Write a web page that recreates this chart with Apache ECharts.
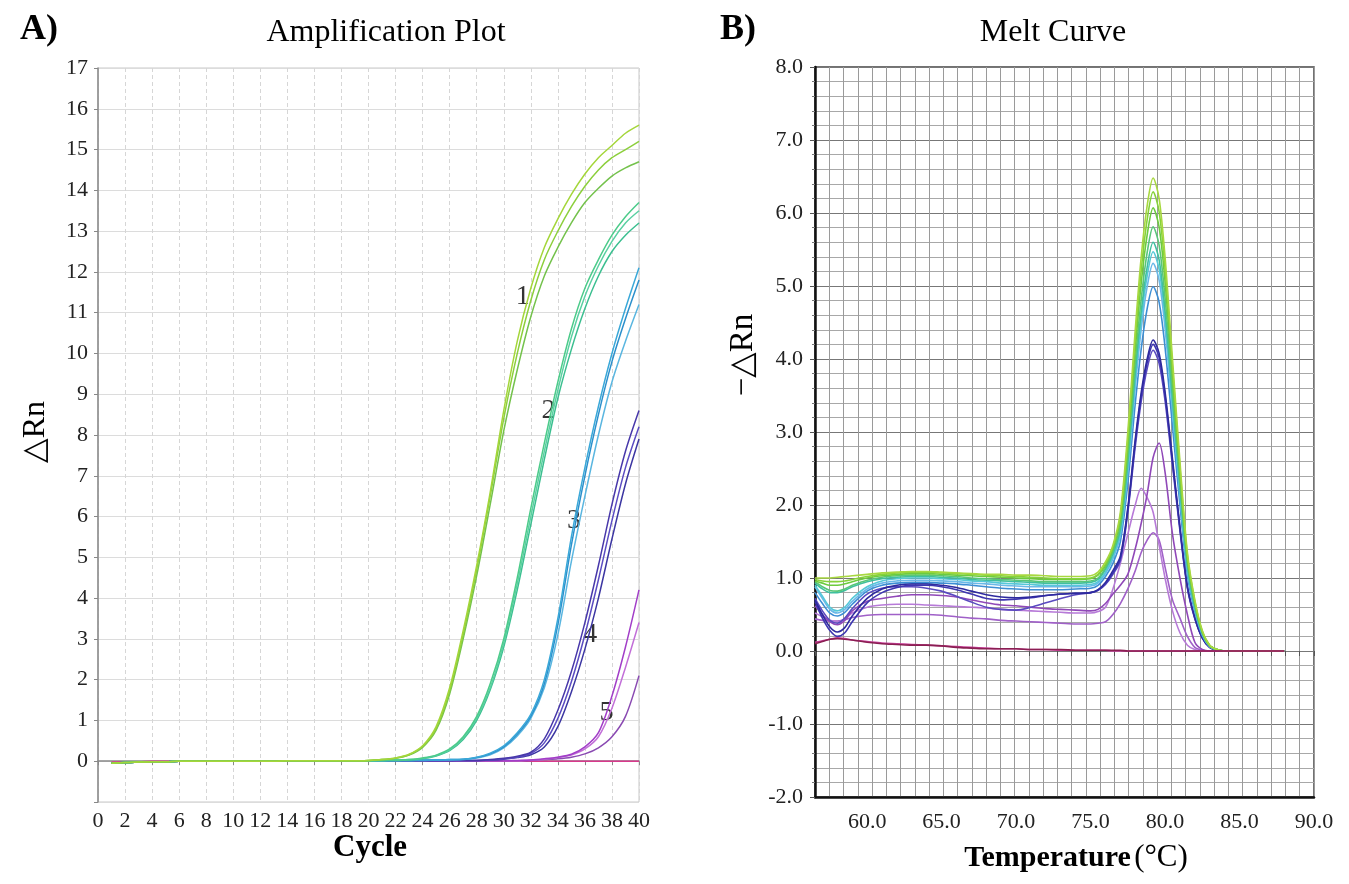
<!DOCTYPE html>
<html><head><meta charset="utf-8">
<script src="https://cdn.jsdelivr.net/npm/echarts@6/dist/echarts.min.js"></script>
<style>html,body{margin:0;padding:0;background:#fff}#c{width:1349px;height:884px}</style>
</head><body><div id="c"></div>
<script>
// ---------- Panel A: amplification plot ----------
const cycles = [1,2,3,4,5,6,7,8,9,10,11,12,13,14,15,16,17,18,19,20,21,22,23,24,25,26,27,28,29,30,31,32,33,34,35,36,37,38,39,40];
const amp1a = [-0.05,-0.03,-0.02,-0.01,-0.01,0,0,0,0,0,0,0,0,0.01,0.01,0.01,0.01,0.01,0.01,0.02,0.04,0.08,0.17,0.38,0.85,1.8,3.2,4.8,6.6,8.6,10.3,11.6,12.6,13.3,13.9,14.4,14.8,15.1,15.4,15.6];
const amp1b = [-0.05,-0.03,-0.02,-0.01,-0.01,0,0,0,0,0,0,0,0,0.01,0.01,0.01,0.01,0.01,0.01,0.02,0.04,0.08,0.16,0.36,0.8,1.72,3.1,4.7,6.5,8.4,10.0,11.3,12.3,13.0,13.6,14.1,14.5,14.8,15.0,15.2];
const amp1c = [-0.05,-0.03,-0.02,-0.01,-0.01,0,0,0,0,0,0,0,0,0.01,0.01,0.01,0.01,0.01,0.01,0.02,0.04,0.07,0.15,0.34,0.76,1.65,3.0,4.55,6.3,8.1,9.6,10.9,11.9,12.6,13.2,13.7,14.05,14.35,14.55,14.7];
const amp2a = [-0.05,-0.03,-0.02,-0.01,-0.01,0,0,0,0,0,0,0,0,0.01,0.01,0.01,0.01,0.01,0.01,0.01,0.02,0.03,0.04,0.08,0.15,0.3,0.6,1.1,1.9,3.0,4.5,6.2,7.8,9.3,10.6,11.6,12.3,12.9,13.35,13.7];
const amp2b = [-0.05,-0.03,-0.02,-0.01,-0.01,0,0,0,0,0,0,0,0,0.01,0.01,0.01,0.01,0.01,0.01,0.01,0.02,0.03,0.04,0.07,0.14,0.28,0.57,1.05,1.8,2.9,4.35,6.0,7.6,9.1,10.4,11.4,12.15,12.75,13.2,13.5];
const amp2c = [-0.05,-0.03,-0.02,-0.01,-0.01,0,0,0,0,0,0,0,0,0.01,0.01,0.01,0.01,0.01,0.01,0.01,0.02,0.02,0.03,0.06,0.13,0.26,0.53,1.0,1.75,2.8,4.2,5.8,7.4,8.9,10.1,11.1,11.9,12.5,12.9,13.2];
const amp3a = [-0.05,-0.03,-0.02,-0.01,-0.01,0,0,0,0,0,0,0,0,0.01,0.01,0.01,0.01,0.01,0.01,0.01,0.01,0.02,0.02,0.03,0.03,0.04,0.05,0.1,0.2,0.38,0.7,1.15,2.0,3.5,5.5,7.2,8.7,10.0,11.1,12.1];
const amp3b = [-0.05,-0.03,-0.02,-0.01,-0.01,0,0,0,0,0,0,0,0,0.01,0.01,0.01,0.01,0.01,0.01,0.01,0.01,0.02,0.02,0.03,0.03,0.04,0.05,0.09,0.18,0.35,0.66,1.1,1.9,3.35,5.3,7.0,8.5,9.8,10.85,11.8];
const amp3c = [-0.05,-0.03,-0.02,-0.01,-0.01,0,0,0,0,0,0,0,0,0.01,0.01,0.01,0.01,0.01,0.01,0.01,0.01,0.01,0.02,0.02,0.03,0.03,0.04,0.08,0.16,0.33,0.62,1.05,1.8,3.1,4.9,6.5,8.0,9.3,10.3,11.2];
const amp4a = [-0.05,-0.03,-0.02,-0.01,-0.01,0,0,0,0,0,0,0,0,0.01,0.01,0.01,0.01,0.01,0.01,0.01,0.01,0.01,0.01,0.01,0.02,0.02,0.02,0.02,0.04,0.07,0.12,0.22,0.55,1.25,2.2,3.4,4.8,6.3,7.6,8.6];
const amp4b = [-0.05,-0.03,-0.02,-0.01,-0.01,0,0,0,0,0,0,0,0,0.01,0.01,0.01,0.01,0.01,0.01,0.01,0.01,0.01,0.01,0.01,0.01,0.02,0.02,0.02,0.03,0.06,0.1,0.19,0.45,1.05,1.95,3.1,4.45,5.9,7.2,8.2];
const amp4c = [-0.05,-0.03,-0.02,-0.01,-0.01,0,0,0,0,0,0,0,0,0.01,0.01,0.01,0.01,0.01,0.01,0.01,0.01,0.01,0.01,0.01,0.01,0.01,0.02,0.02,0.03,0.05,0.09,0.16,0.35,0.85,1.7,2.75,4.0,5.45,6.8,7.9];
const amp5a = [-0.05,-0.03,-0.02,-0.01,-0.01,0,0,0,0,0,0,0,0,0.01,0.01,0.01,0.01,0.01,0.01,0.01,0.01,0.01,0.01,0.01,0.01,0.01,0.01,0.01,0.01,0.01,0.02,0.03,0.06,0.1,0.17,0.35,0.7,1.6,2.8,4.2];
const amp5b = [-0.05,-0.03,-0.02,-0.01,-0.01,0,0,0,0,0,0,0,0,0.01,0.01,0.01,0.01,0.01,0.01,0.01,0.01,0.01,0.01,0.01,0.01,0.01,0.01,0.01,0.01,0.01,0.01,0.03,0.05,0.09,0.15,0.3,0.6,1.3,2.3,3.4];
const amp5c = [-0.05,-0.03,-0.02,-0.01,-0.01,0,0,0,0,0,0,0,0,0.01,0.01,0.01,0.01,0.01,0.01,0.01,0.01,0.01,0.01,0.01,0.01,0.01,0.01,0.01,0.01,0.01,0.01,0.02,0.04,0.06,0.1,0.18,0.33,0.6,1.1,2.1];
const ampNtc = [-0.02,-0.01,-0.01,0,0,0,0,0,0,0,0,0,0,0,0,0,0,0,0,0,0,0,0,0,0,0,0,0,0,0,0,0,0,0,0,0,0,0,0,0];
// group labels 1..5 placed on the curves
const groupLabelText = ['1','2','3','4','5'];
const groupLabelCycle = [31.4,33.3,35.2,36.4,37.6];
const groupLabelValue = [11.4,8.6,5.9,3.1,1.2];

// ---------- Panel B: melt curve ----------
const meltTemps = [56.5,57,57.5,58,58.5,59,60,61,62,63,64,65,66,67,68,69,70,71,72,73,74,75,75.5,76,76.5,77,77.5,78,78.4,78.8,79.2,79.6,80,80.5,81,81.5,82,82.5,83,83.5,84,86,88];
const melt1 = [1.0,1.0,1.0,1.01,1.02,1.03,1.05,1.07,1.08,1.09,1.09,1.08,1.07,1.06,1.05,1.05,1.04,1.04,1.03,1.02,1.02,1.03,1.08,1.22,1.45,1.9,3.0,4.4,5.4,6.1,6.48,6.2,5.4,4.0,2.6,1.35,0.7,0.28,0.08,0.02,0,0,0];
const melt2 = [0.98,0.96,0.95,0.95,0.96,0.98,1.02,1.05,1.07,1.08,1.08,1.07,1.06,1.05,1.04,1.03,1.02,1.01,1.0,0.99,0.99,1.0,1.05,1.19,1.42,1.85,2.9,4.28,5.22,5.91,6.29,6.02,5.24,3.88,2.52,1.31,0.68,0.27,0.08,0.02,0,0,0];
const melt3 = [0.96,0.93,0.9,0.9,0.92,0.95,1.0,1.03,1.05,1.06,1.06,1.05,1.04,1.03,1.02,1.01,1.0,0.99,0.98,0.98,0.98,0.99,1.04,1.17,1.4,1.8,2.8,4.13,5.04,5.7,6.07,5.81,5.06,3.75,2.43,1.26,0.66,0.26,0.07,0.02,0,0,0];
const melt4 = [0.95,0.88,0.83,0.82,0.85,0.9,0.97,1.01,1.03,1.04,1.04,1.03,1.02,1.0,0.99,0.98,0.97,0.96,0.95,0.95,0.95,0.96,1.0,1.14,1.36,1.72,2.68,3.95,4.82,5.46,5.81,5.56,4.84,3.58,2.32,1.21,0.63,0.25,0.07,0.02,0,0,0];
const melt5 = [0.93,0.85,0.8,0.8,0.83,0.88,0.95,0.99,1.01,1.02,1.02,1.01,1.0,0.98,0.97,0.96,0.95,0.94,0.93,0.93,0.93,0.94,0.98,1.12,1.33,1.67,2.58,3.81,4.65,5.26,5.6,5.36,4.66,3.46,2.24,1.17,0.6,0.24,0.07,0.02,0,0,0];
const melt6 = [0.9,0.75,0.6,0.55,0.6,0.72,0.88,0.96,0.99,1.0,1.0,0.99,0.98,0.96,0.95,0.93,0.92,0.91,0.9,0.9,0.9,0.91,0.95,1.08,1.29,1.62,2.52,3.72,4.54,5.14,5.47,5.23,4.56,3.37,2.19,1.14,0.59,0.24,0.07,0.02,0,0,0];
const melt7 = [0.88,0.72,0.57,0.52,0.57,0.68,0.85,0.93,0.96,0.97,0.97,0.96,0.95,0.93,0.92,0.9,0.89,0.88,0.88,0.88,0.88,0.89,0.93,1.06,1.26,1.58,2.44,3.61,4.41,4.99,5.31,5.08,4.42,3.28,2.12,1.1,0.57,0.23,0.06,0.02,0,0,0];
const melt8 = [0.8,0.65,0.52,0.48,0.53,0.64,0.82,0.9,0.93,0.94,0.94,0.93,0.92,0.9,0.88,0.86,0.85,0.84,0.84,0.84,0.85,0.86,0.9,1.02,1.2,1.5,2.3,3.39,4.14,4.69,4.99,4.78,4.16,3.08,2.0,1.04,0.54,0.21,0.06,0.01,0,0,0];
const melt9 = [0.7,0.5,0.33,0.26,0.32,0.48,0.72,0.85,0.9,0.92,0.92,0.9,0.87,0.82,0.77,0.74,0.73,0.74,0.76,0.78,0.79,0.8,0.84,0.94,1.1,1.3,1.96,2.9,3.54,4.0,4.26,4.08,3.55,2.63,1.7,0.89,0.46,0.18,0.05,0.01,0,0,0];
const melt10 = [0.68,0.45,0.28,0.2,0.25,0.4,0.66,0.8,0.87,0.9,0.9,0.88,0.84,0.78,0.72,0.7,0.71,0.73,0.76,0.78,0.79,0.8,0.83,0.92,1.07,1.27,1.93,2.86,3.49,3.95,4.2,4.02,3.5,2.59,1.68,0.87,0.45,0.18,0.05,0.01,0,0,0];
const melt11 = [0.72,0.55,0.42,0.38,0.45,0.58,0.78,0.86,0.88,0.88,0.86,0.82,0.75,0.67,0.6,0.57,0.56,0.6,0.66,0.72,0.77,0.8,0.83,0.91,1.05,1.24,1.9,2.8,3.42,3.87,4.12,3.94,3.43,2.54,1.65,0.86,0.44,0.18,0.05,0.01,0,0,0];
const melt12 = [0.62,0.5,0.4,0.36,0.42,0.55,0.68,0.72,0.75,0.77,0.77,0.76,0.74,0.7,0.66,0.63,0.62,0.6,0.58,0.57,0.56,0.55,0.57,0.65,0.78,0.9,1.05,1.4,1.75,2.15,2.65,2.85,2.45,1.6,1.0,0.5,0.12,0.02,0,0,0,0,0];
const melt13 = [0.52,0.47,0.42,0.4,0.44,0.52,0.6,0.63,0.64,0.64,0.63,0.62,0.61,0.6,0.59,0.57,0.56,0.55,0.54,0.53,0.52,0.52,0.54,0.6,0.85,1.2,1.6,2.0,2.23,2.1,1.9,1.45,1.0,0.55,0.25,0.08,0.02,0,0,0,0,0,0];
const melt14 = [0.44,0.42,0.41,0.41,0.43,0.46,0.49,0.5,0.5,0.5,0.5,0.49,0.47,0.45,0.44,0.42,0.41,0.4,0.39,0.38,0.37,0.37,0.38,0.4,0.5,0.65,0.85,1.1,1.35,1.52,1.62,1.52,1.15,0.7,0.45,0.2,0.05,0.01,0,0,0,0,0];
const meltNtc1 = [0.1,0.13,0.16,0.17,0.16,0.15,0.12,0.1,0.09,0.08,0.08,0.07,0.05,0.04,0.03,0.03,0.03,0.02,0.02,0.02,0.01,0.01,0.01,0.01,0.01,0.01,0,0,0,0,0,0,0,0,0,0,0,0,0,0,0,0,0];
const meltNtc2 = [0.12,0.14,0.16,0.18,0.17,0.15,0.13,0.11,0.1,0.09,0.08,0.07,0.06,0.05,0.04,0.03,0.03,0.02,0.02,0.01,0.01,0.01,0.01,0.01,0,0,0,0,0,0,0,0,0,0,0,0,0,0,0,0,0,0,0];
const tempLabels = [60,65,70,75,80,85,90];

// ---------- build ----------
const serif = '"Liberation Serif","DejaVu Serif","Noto Sans CJK SC",serif';
const zip = (xs, ys) => xs.map((x, i) => [x, ys[i]]);

const ampSeries = [
  [ampNtc, '#d8398c'],
  [amp5c, '#8a4ab2'], [amp5b, '#c26fd8'], [amp5a, '#a23ec8'],
  [amp4c, '#3c36a2'], [amp4b, '#5b4cc2'], [amp4a, '#4838aa'],
  [amp3c, '#5ab6e0'], [amp3b, '#2c90cc'], [amp3a, '#3aa8d8'],
  [amp2c, '#3cbf90'], [amp2b, '#5ad0a2'], [amp2a, '#4ccb8a'],
  [amp1c, '#74c24c'], [amp1b, '#8ccf3c'], [amp1a, '#a4d63a']
].map(([d, c]) => ({
  type: 'line', xAxisIndex: 0, yAxisIndex: 0, data: zip(cycles, d),
  smooth: 0.3, showSymbol: false, symbol: 'none',
  lineStyle: { color: c, width: 1.5 }, silent: true
}));

const meltSeries = [
  [melt14, '#a060c8'], [melt13, '#b77ad8'], [melt12, '#9048b8'],
  [melt11, '#5a4ac0'], [melt10, '#3e36b0'], [melt9, '#2e2a9e'],
  [melt8, '#3c8ed4'], [melt7, '#6ab8e8'], [melt6, '#55c8d8'],
  [melt5, '#3fbfa0'], [melt4, '#58c678'], [melt3, '#6ccb3e'],
  [melt2, '#86d23a'], [melt1, '#a8d840'],
  [meltNtc2, '#c8409a'], [meltNtc1, '#8a1f52']
].map(([d, c]) => ({
  type: 'line', xAxisIndex: 1, yAxisIndex: 1, data: zip(meltTemps, d),
  smooth: 0.3, showSymbol: false, symbol: 'none',
  lineStyle: { color: c, width: 1.6 }, silent: true
}));

const labelSeries = {
  type: 'scatter', xAxisIndex: 0, yAxisIndex: 0, symbolSize: 1,
  itemStyle: { color: 'transparent' }, silent: true,
  data: groupLabelText.map((t, i) => [groupLabelCycle[i], groupLabelValue[i], t]),
  label: { show: true, position: 'inside', formatter: p => p.value[2],
           fontFamily: serif, fontSize: 28, color: '#000' }
};

const chart = echarts.init(document.getElementById('c'), null, { renderer: 'canvas' });
chart.setOption({
  animation: false,
  backgroundColor: '#fff',
  grid: [
    { left: 98, top: 68, width: 541, height: 734, show: true, borderColor: '#c8c8c8', borderWidth: 1 },
    { left: 815, top: 67, width: 499, height: 730, show: true, borderColor: '#444', borderWidth: 1.5 }
  ],
  xAxis: [
    { type: 'value', gridIndex: 0, min: 0, max: 40, interval: 2,
      axisLine: { show: true, lineStyle: { color: '#888', width: 1.5 } },
      axisTick: { show: true, length: 4, lineStyle: { color: '#888' } },
      axisLabel: { fontFamily: serif, fontSize: 22, color: '#222', margin: 8 },
      splitLine: { show: true, lineStyle: { color: '#d6d6d6', type: [4, 3], width: 1 } } },
    { type: 'value', gridIndex: 1, min: 56.5, max: 90,
      axisLine: { show: true, onZero: false, lineStyle: { color: '#111', width: 2.5 } },
      axisTick: { show: false },
      axisLabel: { customValues: tempLabels, fontFamily: serif, fontSize: 22, color: '#222', margin: 14,
                   formatter: v => Number(v).toFixed(1) },
      splitLine: { show: false } },
    { type: 'value', gridIndex: 1, min: 0, max: 35, interval: 1, position: 'bottom',
      axisLine: { show: false }, axisLabel: { show: false },
      axisTick: { show: true, length: 5, lineStyle: { color: '#555' } },
      splitLine: { show: true, lineStyle: { color: '#9a9a9a', width: 1 } } }
  ],
  yAxis: [
    { type: 'value', gridIndex: 0, min: -1, max: 17, interval: 1,
      axisLine: { show: true, lineStyle: { color: '#888', width: 1.5 } },
      axisTick: { show: true, length: 4, lineStyle: { color: '#888' } },
      axisLabel: { fontFamily: serif, fontSize: 22, color: '#222', margin: 10,
                   formatter: v => (v < 0 ? '' : String(v)) },
      splitLine: { show: true, lineStyle: { color: '#dcdcdc', width: 1 } } },
    { type: 'value', gridIndex: 1, min: -2, max: 8, interval: 1,
      axisLine: { show: true, onZero: false, lineStyle: { color: '#111', width: 2.5 } },
      axisTick: { show: true, length: 5, lineStyle: { color: '#555' } },
      minorTick: { show: true, splitNumber: 5, length: 3, lineStyle: { color: '#777' } },
      axisLabel: { fontFamily: serif, fontSize: 22, color: '#222', margin: 12,
                   formatter: v => Number(v).toFixed(1) },
      splitLine: { show: true, lineStyle: { color: '#777', width: 1 } },
      minorSplitLine: { show: true, lineStyle: { color: '#a8a8a8', width: 1 } } }
  ],
  graphic: [
    { type: 'text', left: 20, top: 12, style: { text: 'A)', font: 'bold 36px ' + serif, fill: '#000' } },
    { type: 'text', x: 386, y: 33, style: { text: 'Amplification Plot', font: '32px ' + serif, fill: '#000', align: 'center', verticalAlign: 'middle' } },
    { type: 'text', left: 720, top: 12, style: { text: 'B)', font: 'bold 36px ' + serif, fill: '#000' } },
    { type: 'text', x: 1053, y: 33, style: { text: 'Melt Curve', font: '32px ' + serif, fill: '#000', align: 'center', verticalAlign: 'middle' } },
    { type: 'text', x: 36, y: 432, rotation: Math.PI / 2, style: { text: '△Rn', font: '32px ' + serif, fill: '#000', align: 'center', verticalAlign: 'middle' } },
    { type: 'text', x: 743, y: 355, rotation: Math.PI / 2, style: { text: '−△Rn', font: '33px ' + serif, fill: '#000', align: 'center', verticalAlign: 'middle' } },
    { type: 'text', x: 370, y: 848, style: { text: 'Cycle', font: 'bold 31px ' + serif, fill: '#000', align: 'center', verticalAlign: 'middle' } },
    { type: 'text', x: 1076, y: 858, style: { text: '{b|Temperature} {r|(°C)}', align: 'center', verticalAlign: 'middle',
        rich: { b: { font: 'bold 30px ' + serif, fill: '#000' }, r: { font: '31px ' + serif, fill: '#000' } } } }
  ],
  series: [...ampSeries, labelSeries, ...meltSeries]
});
</script>
</body></html>
